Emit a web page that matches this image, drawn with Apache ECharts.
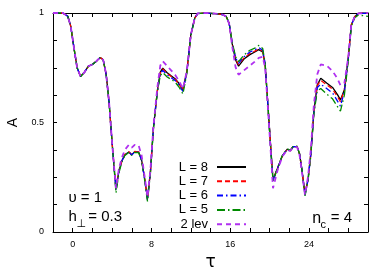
<!DOCTYPE html>
<html>
<head>
<meta charset="utf-8">
<script src="https://cdn.jsdelivr.net/npm/echarts@6/dist/echarts.min.js"></script>
<style>html,body{margin:0;padding:0;background:#fff}#c{width:382px;height:267px}</style>
</head>
<body>
<div id="c"></div>
<script>
const tau = [-2, -1, -0.5, -0.2, 0.2, 0.45, 0.8, 1.2, 1.6, 2.0, 2.4, 2.8, 3.1, 3.4, 3.7, 4.0, 4.2, 4.4, 4.7, 5.0, 5.3, 5.7, 6.0, 6.3, 6.7, 7.0, 7.3, 7.6, 7.9, 8.2, 8.6, 8.9, 9.15, 9.6, 10.0, 10.4, 10.8, 11.2, 11.6, 12.0, 12.4, 12.7, 13.5, 14.5, 15.2, 15.6, 15.9, 16.2, 16.55, 16.85, 17.4, 18.0, 18.5, 18.9, 19.3, 19.55, 19.8, 20.1, 20.35, 20.8, 21.3, 21.8, 22.1, 22.4, 22.8, 23.05, 23.3, 23.6, 23.9, 24.2, 24.5, 24.85, 25.2, 25.8, 26.4, 26.9, 27.2, 27.6, 28.0, 28.3, 28.65, 29.0, 29.5, 30];

const L8 = [1.000, 1.000, 0.985, 0.940, 0.820, 0.750, 0.710, 0.730, 0.757, 0.765,
  0.780, 0.797, 0.786, 0.720, 0.590, 0.410, 0.300, 0.200, 0.280, 0.325,
  0.352, 0.365, 0.352, 0.367, 0.365, 0.330, 0.246, 0.155, 0.277, 0.474,
  0.645, 0.730, 0.748, 0.727, 0.713, 0.700, 0.678, 0.650, 0.733, 0.900,
  0.977, 0.998, 1.000, 0.997, 0.993, 0.984, 0.952, 0.860, 0.785, 0.757,
  0.790, 0.810, 0.822, 0.833, 0.822, 0.765, 0.600, 0.400, 0.240, 0.290,
  0.348, 0.378, 0.371, 0.390, 0.390, 0.356, 0.280, 0.172, 0.240, 0.360,
  0.550, 0.672, 0.702, 0.680, 0.660, 0.627, 0.603, 0.650, 0.795, 0.945,
  0.983, 0.998, 1.000, 1.000];

const L7 = [1.000, 1.000, 0.985, 0.940, 0.820, 0.750, 0.710, 0.730, 0.757, 0.765,
  0.780, 0.797, 0.786, 0.720, 0.590, 0.410, 0.300, 0.195, 0.280, 0.325,
  0.354, 0.367, 0.354, 0.368, 0.366, 0.330, 0.246, 0.150, 0.277, 0.474,
  0.645, 0.727, 0.745, 0.724, 0.710, 0.697, 0.675, 0.647, 0.733, 0.900,
  0.977, 0.998, 1.000, 0.997, 0.993, 0.984, 0.952, 0.862, 0.790, 0.765,
  0.795, 0.815, 0.826, 0.836, 0.826, 0.768, 0.600, 0.398, 0.238, 0.290,
  0.348, 0.378, 0.371, 0.390, 0.390, 0.356, 0.280, 0.170, 0.238, 0.360,
  0.550, 0.668, 0.692, 0.672, 0.652, 0.618, 0.595, 0.648, 0.795, 0.945,
  0.983, 0.997, 1.000, 1.000];

const L6 = [1.000, 1.000, 0.985, 0.940, 0.820, 0.750, 0.710, 0.730, 0.757, 0.765,
  0.780, 0.797, 0.786, 0.720, 0.590, 0.410, 0.300, 0.190, 0.280, 0.325,
  0.352, 0.365, 0.352, 0.366, 0.364, 0.328, 0.244, 0.145, 0.277, 0.474,
  0.642, 0.722, 0.738, 0.717, 0.704, 0.692, 0.670, 0.642, 0.730, 0.900,
  0.977, 0.998, 1.000, 0.997, 0.993, 0.984, 0.952, 0.865, 0.795, 0.770,
  0.800, 0.822, 0.832, 0.842, 0.830, 0.770, 0.600, 0.395, 0.235, 0.290,
  0.348, 0.378, 0.371, 0.390, 0.390, 0.356, 0.280, 0.168, 0.235, 0.358,
  0.545, 0.660, 0.675, 0.655, 0.635, 0.598, 0.575, 0.640, 0.790, 0.943,
  0.982, 0.996, 0.998, 0.998];

const L5 = [1.000, 1.000, 0.985, 0.940, 0.820, 0.750, 0.710, 0.730, 0.757, 0.765,
  0.780, 0.797, 0.786, 0.720, 0.590, 0.410, 0.295, 0.178, 0.270, 0.320,
  0.350, 0.363, 0.350, 0.364, 0.362, 0.325, 0.240, 0.140, 0.270, 0.470,
  0.640, 0.715, 0.728, 0.708, 0.697, 0.685, 0.662, 0.630, 0.725, 0.895,
  0.975, 0.997, 1.000, 0.997, 0.993, 0.984, 0.952, 0.868, 0.800, 0.778,
  0.808, 0.830, 0.840, 0.852, 0.838, 0.772, 0.600, 0.392, 0.232, 0.290,
  0.350, 0.380, 0.373, 0.392, 0.392, 0.356, 0.280, 0.165, 0.230, 0.352,
  0.540, 0.645, 0.655, 0.630, 0.608, 0.572, 0.552, 0.625, 0.782, 0.938,
  0.978, 0.990, 0.988, 0.985];

const lev2 = [1.000, 1.000, 0.985, 0.940, 0.820, 0.750, 0.710, 0.730, 0.757, 0.765,
  0.780, 0.797, 0.786, 0.720, 0.590, 0.410, 0.300, 0.200, 0.290, 0.340,
  0.375, 0.398, 0.385, 0.398, 0.395, 0.350, 0.255, 0.160, 0.285, 0.480,
  0.660, 0.760, 0.780, 0.758, 0.738, 0.718, 0.690, 0.655, 0.735, 0.900,
  0.977, 0.998, 1.000, 0.997, 0.993, 0.984, 0.950, 0.850, 0.752, 0.718,
  0.738, 0.760, 0.778, 0.795, 0.800, 0.750, 0.590, 0.380, 0.200, 0.280,
  0.345, 0.375, 0.370, 0.388, 0.388, 0.350, 0.270, 0.170, 0.250, 0.380,
  0.580, 0.720, 0.765, 0.760, 0.735, 0.700, 0.670, 0.680, 0.800, 0.945,
  0.983, 0.998, 1.000, 1.000];

const xTickLabels = [0, 8, 16, 24];
const yTickLabels = [0, 0.5, 1];

const FONT = 'Liberation Sans';
const chart = echarts.init(document.getElementById('c'), null, {renderer: 'canvas'});

function axisCommon() {
  return {
    axisLine: {onZero: false, lineStyle: {color: '#000', width: 1}},
    axisTick: {inside: true, length: 4, lineStyle: {color: '#000', width: 1}},
    splitLine: {show: false}
  };
}

function mk(name, arr, color, type, width) {
  return {
    name: name, type: 'line', symbol: 'none', showSymbol: false, animation: false,
    data: tau.map((t, i) => [t, arr[i]]),
    lineStyle: {color: color, type: type, width: width},
    itemStyle: {color: color}
  };
}

const option = {
  animation: false,
  backgroundColor: '#fff',
  grid: {left: 53, right: 14, top: 13, bottom: 35, containLabel: false, outerBoundsMode: 'none'},
  xAxis: [
    Object.assign(axisCommon(), {
      type: 'value', min: -2, max: 30, interval: 2, position: 'bottom',
      axisLabel: {
        color: '#000', fontSize: 9, fontFamily: FONT, margin: 8,
        formatter: v => xTickLabels.indexOf(v) >= 0 ? String(v) : ''
      },
      name: 'τ', nameLocation: 'middle', nameGap: 18,
      nameTextStyle: {color: '#000', fontSize: 17, fontFamily: 'DejaVu Sans'}
    }),
    Object.assign(axisCommon(), {
      type: 'value', min: -2, max: 30, interval: 2, position: 'top',
      axisLabel: {show: false}
    })
  ],
  yAxis: [
    Object.assign(axisCommon(), {
      type: 'value', min: 0, max: 1, interval: 0.125, position: 'left',
      axisLabel: {
        color: '#000', fontSize: 9, fontFamily: FONT, margin: 9,
        formatter: v => {
          for (const t of yTickLabels) if (Math.abs(v - t) < 1e-9) return String(t);
          return '';
        }
      },
      name: 'A', nameLocation: 'middle', nameGap: 33, nameRotate: 90,
      nameTextStyle: {color: '#000', fontSize: 14, fontFamily: FONT}
    }),
    Object.assign(axisCommon(), {
      type: 'value', min: 0, max: 1, interval: 0.125, position: 'right',
      axisLabel: {show: false}
    })
  ],
  legend: {
    orient: 'vertical', align: 'right', right: 135, top: 160, padding: 0,
    itemWidth: 29, itemHeight: 14, itemGap: 0.3,
    itemStyle: {opacity: 0},
    textStyle: {color: '#000', fontSize: 13, fontFamily: FONT, lineHeight: 14, padding: [0, 4, 0, 0]},
    data: ['L = 8', 'L = 7', 'L = 6', 'L = 5', '2 lev']
  },
  series: [
    mk('L = 8', L8, '#000000', 'solid', 1.3),
    mk('L = 7', L7, '#ff0000', [5, 3], 1.3),
    mk('L = 6', L6, '#0000ff', [6, 3, 1.5, 3], 1.3),
    mk('L = 5', L5, '#008a00', [8, 3, 1.5, 3], 1.3),
    mk('2 lev', lev2, '#b030f0', [5, 4], 1.8)
  ],
  graphic: [
    {type: 'text', x: 68.5, y: 197.5, style: {text: 'υ = 1', fontSize: 15, fontFamily: FONT, fill: '#000', verticalAlign: 'middle'}},
    {type: 'text', x: 68.5, y: 217.3, style: {text: 'h', fontSize: 15, fontFamily: FONT, fill: '#000', verticalAlign: 'middle'}},
    {type: 'text', x: 76.5, y: 224.5, style: {text: '⊥', fontSize: 11, fontFamily: 'DejaVu Sans', fill: '#000', verticalAlign: 'middle'}},
    {type: 'text', x: 88.3, y: 217.3, style: {text: '= 0.3', fontSize: 15, fontFamily: FONT, fill: '#000', verticalAlign: 'middle'}},
    {type: 'text', x: 312.3, y: 218.5, style: {text: 'n', fontSize: 16, fontFamily: FONT, fill: '#000', verticalAlign: 'middle'}},
    {type: 'text', x: 320.5, y: 224.5, style: {text: 'c', fontSize: 11, fontFamily: FONT, fill: '#000', verticalAlign: 'middle'}},
    {type: 'text', x: 330.7, y: 217.7, style: {text: '= 4', fontSize: 15, fontFamily: FONT, fill: '#000', verticalAlign: 'middle'}}
  ]
};
chart.setOption(option);
</script>
</body>
</html>
